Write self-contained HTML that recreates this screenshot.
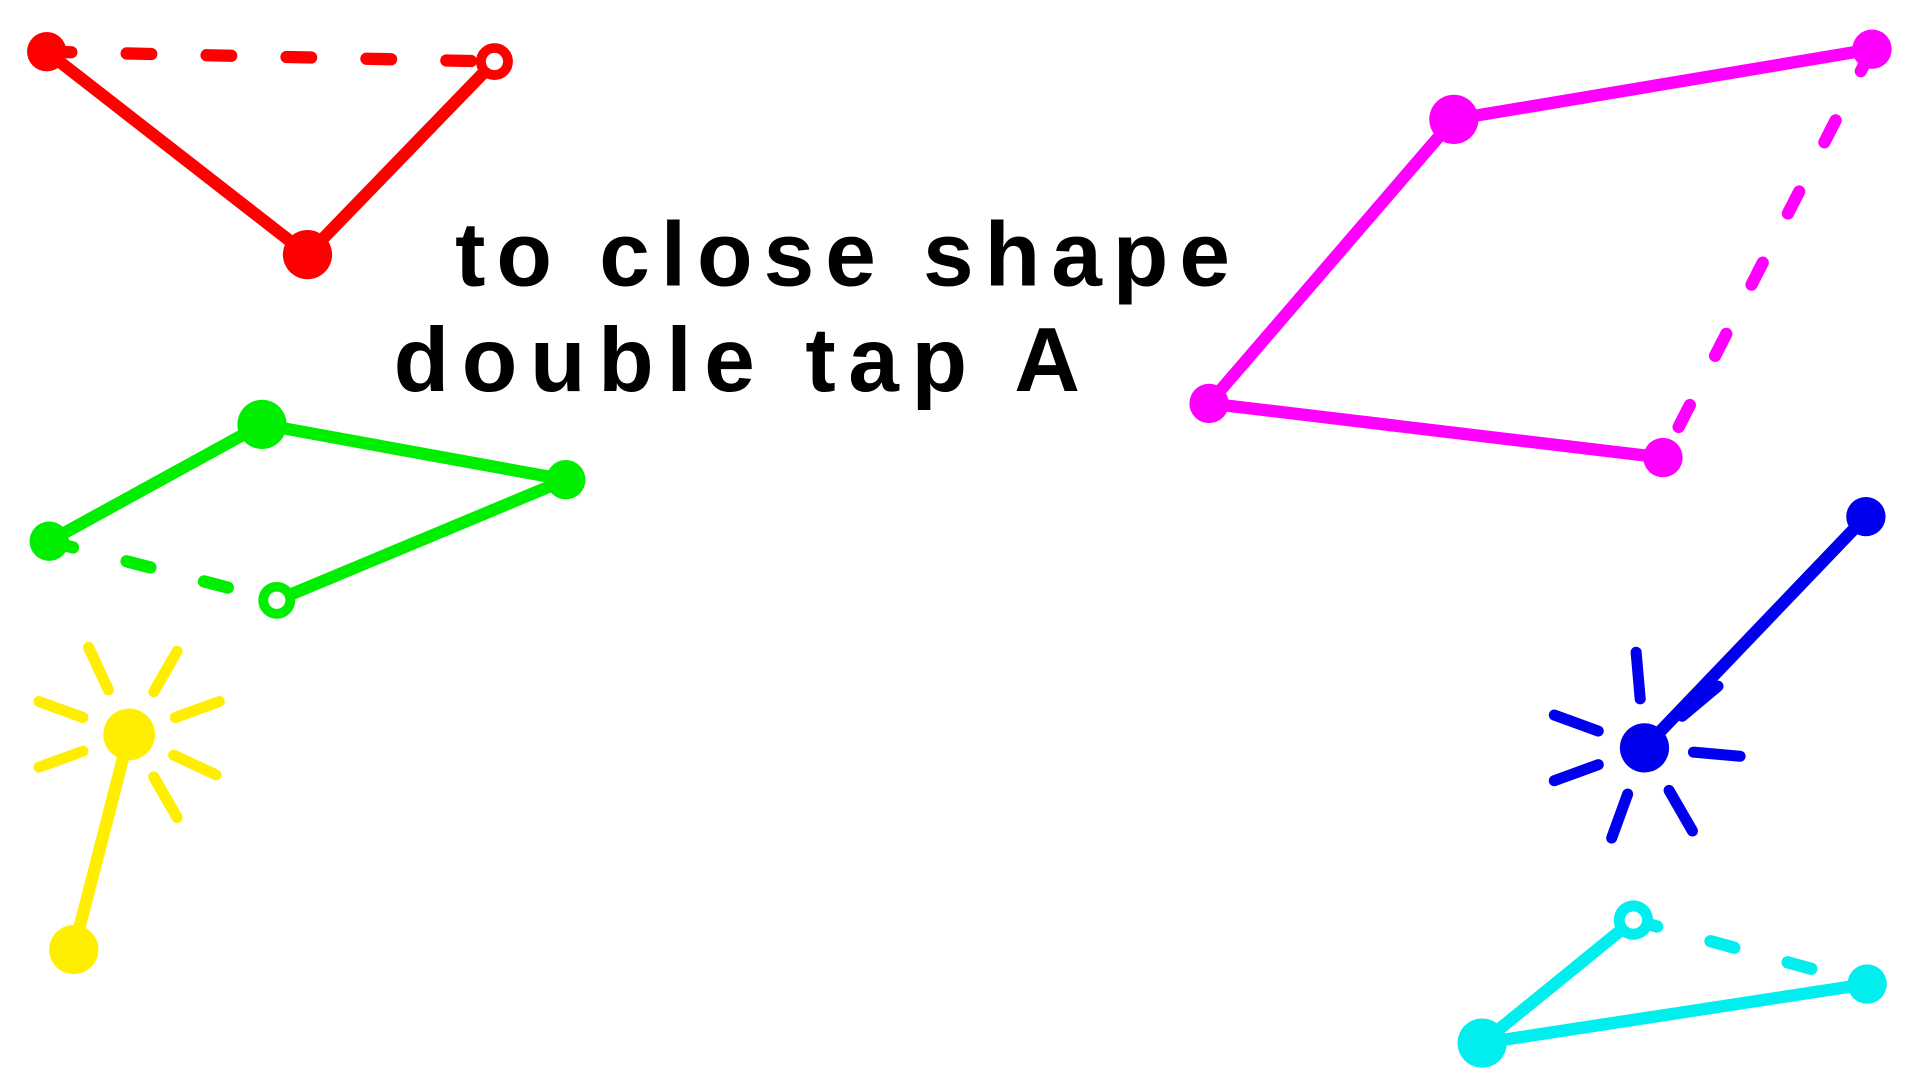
<!DOCTYPE html>
<html><head><meta charset="utf-8"><style>
html,body{margin:0;padding:0;background:#fff;width:1920px;height:1080px;overflow:hidden}
svg{display:block}
text{font-family:"Liberation Sans",sans-serif;font-weight:bold;fill:#000}
</style></head><body>
<svg id="s" width="1920" height="1080" viewBox="0 0 1561 878" xmlns="http://www.w3.org/2000/svg">
<text x="370" y="232" font-size="74" textLength="630" lengthAdjust="spacing">to close shape</text>
<text x="320" y="318" font-size="74" textLength="558" lengthAdjust="spacing">double tap A</text>
</svg>
<script>
const redPts=[[38,42],[250,207],[402,50]];
const greenPts=[[40,440],[213,345],[460,390],[225,488]];
const magentaPts=[[1522,40],[1182,97],[983,328],[1352,372]];
const yellowPts=[[105,597],[60,772]];
const bluePts=[[1517,420],[1337,608]];
const cyanPts=[[1328,748],[1205,848],[1518,800]];
const svg=document.getElementById('s');
const NS='http://www.w3.org/2000/svg';
function line(a,b,c,dash,w){
  const l=document.createElementNS(NS,'line');
  l.setAttribute('x1',a[0]);l.setAttribute('y1',a[1]);l.setAttribute('x2',b[0]);l.setAttribute('y2',b[1]);
  l.setAttribute('stroke',c);l.setAttribute('stroke-width',w||10);l.setAttribute('stroke-linecap','round');
  if(dash)l.setAttribute('stroke-dasharray',dash);
  
  
  svg.appendChild(l);
}
function dot(p,c,r,open){
  const e=document.createElementNS(NS,'circle');
  e.setAttribute('cx',p[0]);e.setAttribute('cy',p[1]);e.setAttribute('r',open?11:r);
  if(open){e.setAttribute('fill','#fff');e.setAttribute('stroke',c);e.setAttribute('stroke-width',8);}
  else e.setAttribute('fill',c);
  
  
  svg.appendChild(e);
}
function shape(pts,c,openLast,closeFrom,closeTo){
  for(let i=0;i<pts.length-1;i++)line(pts[i],pts[i+1],c);
  if(closeFrom!=null)line(pts[closeFrom],pts[closeTo],c,'20 45');
  pts.forEach((p,i)=>dot(p,c,i===1?20:16,openLast&&i===pts.length-1));
}
shape(redPts,'#ff0000',true,0,2);
shape(greenPts,'#00ee00',true,0,3);
shape(magentaPts,'#ff00ff',false,0,3);
shape(cyanPts,'#00eeee',false,0,2);
dot(cyanPts[0],'#00eeee',0,true);
shape(yellowPts,'#ffee00',false,null,null);
shape(bluePts,'#0000ee',false,null,null);
dot(yellowPts[0],'#ffee00',21);dot(bluePts[1],'#0000ee',16);
function rays(cx,cy,c,angles){
  angles.forEach(a=>{const r=a*Math.PI/180;
    line([cx+Math.cos(r)*40,cy+Math.sin(r)*40],[cx+Math.cos(r)*78,cy+Math.sin(r)*78],c,null,9);});
}
rays(105,597,'#ffee00',[-115,-60,-20,25,60,160,200]);
rays(1337,608,'#0000ee',[-95,-40,5,60,110,160,200]);
</script>
</body></html>
